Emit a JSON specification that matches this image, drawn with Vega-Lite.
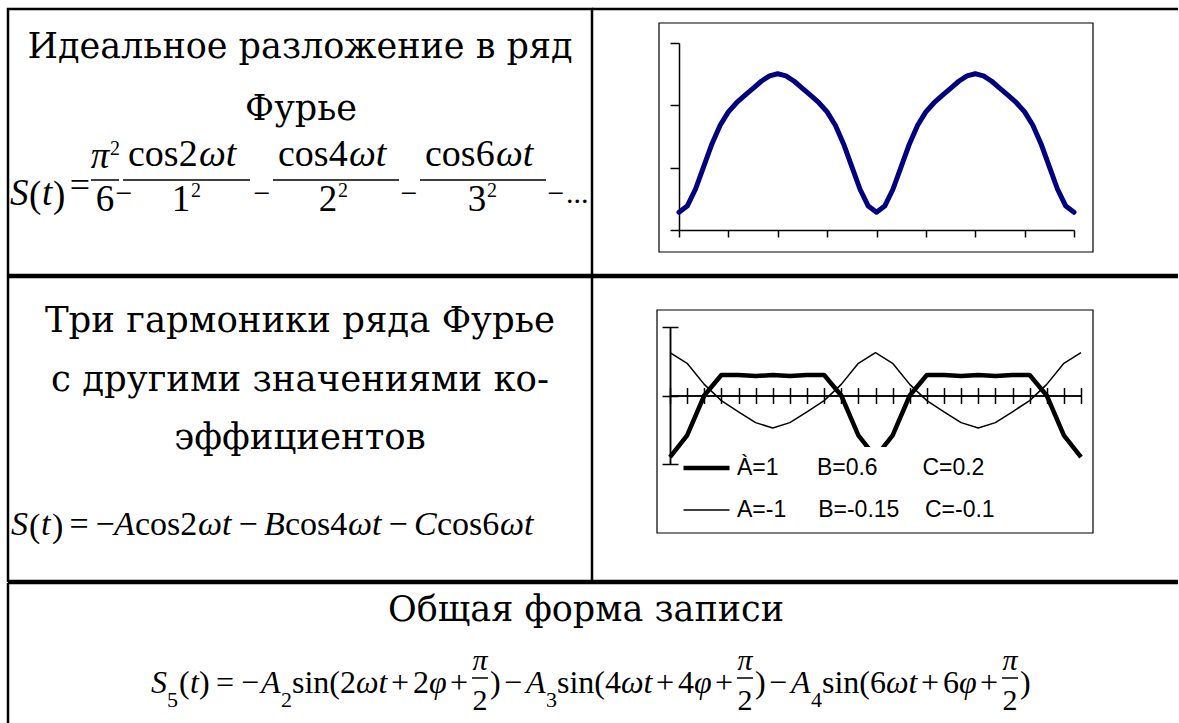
{
  "$schema": "https://vega.github.io/schema/vega-lite/v6.json",
  "background": "white",
  "padding": {"left": 6, "top": 7, "right": 0, "bottom": 0},
  "spacing": -2.5,
  "config": {
    "view": {"stroke": null},
    "text": {"font": "Liberation Serif", "fontSize": 36, "align": "left", "baseline": "alphabetic", "color": "black"},
    "rule": {"color": "black", "strokeWidth": 1.5}
  },
  "datasets": {
    "ideal": [
      {"deg": 0, "S": 0.284}, {"deg": 7.5, "S": 0.384}, {"deg": 15, "S": 0.654}, {"deg": 22.5, "S": 1.016},
      {"deg": 30, "S": 1.381}, {"deg": 37.5, "S": 1.681}, {"deg": 45, "S": 1.895}, {"deg": 52.5, "S": 2.042},
      {"deg": 60, "S": 2.159}, {"deg": 67.5, "S": 2.273}, {"deg": 75, "S": 2.386}, {"deg": 82.5, "S": 2.473},
      {"deg": 90, "S": 2.506}, {"deg": 97.5, "S": 2.473}, {"deg": 105, "S": 2.386}, {"deg": 112.5, "S": 2.273},
      {"deg": 120, "S": 2.159}, {"deg": 127.5, "S": 2.042}, {"deg": 135, "S": 1.895}, {"deg": 142.5, "S": 1.681},
      {"deg": 150, "S": 1.381}, {"deg": 157.5, "S": 1.016}, {"deg": 165, "S": 0.654}, {"deg": 172.5, "S": 0.384},
      {"deg": 180, "S": 0.284}, {"deg": 187.5, "S": 0.384}, {"deg": 195, "S": 0.654}, {"deg": 202.5, "S": 1.016},
      {"deg": 210, "S": 1.381}, {"deg": 217.5, "S": 1.681}, {"deg": 225, "S": 1.895}, {"deg": 232.5, "S": 2.042},
      {"deg": 240, "S": 2.159}, {"deg": 247.5, "S": 2.273}, {"deg": 255, "S": 2.386}, {"deg": 262.5, "S": 2.473},
      {"deg": 270, "S": 2.506}, {"deg": 277.5, "S": 2.473}, {"deg": 285, "S": 2.386}, {"deg": 292.5, "S": 2.273},
      {"deg": 300, "S": 2.159}, {"deg": 307.5, "S": 2.042}, {"deg": 315, "S": 1.895}, {"deg": 322.5, "S": 1.681},
      {"deg": 330, "S": 1.381}, {"deg": 337.5, "S": 1.016}, {"deg": 345, "S": 0.654}, {"deg": 352.5, "S": 0.384},
      {"deg": 360, "S": 0.284}
    ],
    "harmonics": [
      {"series": "À=1\u00a0\u00a0\u00a0\u00a0\u00a0\u00a0B=0.6\u00a0\u00a0\u00a0\u00a0\u00a0\u00a0\u00a0C=0.2", "deg": 0, "S": -1.8},
      {"series": "À=1\u00a0\u00a0\u00a0\u00a0\u00a0\u00a0B=0.6\u00a0\u00a0\u00a0\u00a0\u00a0\u00a0\u00a0C=0.2", "deg": 15, "S": -1.166},
      {"series": "À=1\u00a0\u00a0\u00a0\u00a0\u00a0\u00a0B=0.6\u00a0\u00a0\u00a0\u00a0\u00a0\u00a0\u00a0C=0.2", "deg": 30, "S": 0},
      {"series": "À=1\u00a0\u00a0\u00a0\u00a0\u00a0\u00a0B=0.6\u00a0\u00a0\u00a0\u00a0\u00a0\u00a0\u00a0C=0.2", "deg": 45, "S": 0.6},
      {"series": "À=1\u00a0\u00a0\u00a0\u00a0\u00a0\u00a0B=0.6\u00a0\u00a0\u00a0\u00a0\u00a0\u00a0\u00a0C=0.2", "deg": 60, "S": 0.6},
      {"series": "À=1\u00a0\u00a0\u00a0\u00a0\u00a0\u00a0B=0.6\u00a0\u00a0\u00a0\u00a0\u00a0\u00a0\u00a0C=0.2", "deg": 75, "S": 0.566},
      {"series": "À=1\u00a0\u00a0\u00a0\u00a0\u00a0\u00a0B=0.6\u00a0\u00a0\u00a0\u00a0\u00a0\u00a0\u00a0C=0.2", "deg": 90, "S": 0.6},
      {"series": "À=1\u00a0\u00a0\u00a0\u00a0\u00a0\u00a0B=0.6\u00a0\u00a0\u00a0\u00a0\u00a0\u00a0\u00a0C=0.2", "deg": 105, "S": 0.566},
      {"series": "À=1\u00a0\u00a0\u00a0\u00a0\u00a0\u00a0B=0.6\u00a0\u00a0\u00a0\u00a0\u00a0\u00a0\u00a0C=0.2", "deg": 120, "S": 0.6},
      {"series": "À=1\u00a0\u00a0\u00a0\u00a0\u00a0\u00a0B=0.6\u00a0\u00a0\u00a0\u00a0\u00a0\u00a0\u00a0C=0.2", "deg": 135, "S": 0.6},
      {"series": "À=1\u00a0\u00a0\u00a0\u00a0\u00a0\u00a0B=0.6\u00a0\u00a0\u00a0\u00a0\u00a0\u00a0\u00a0C=0.2", "deg": 150, "S": 0},
      {"series": "À=1\u00a0\u00a0\u00a0\u00a0\u00a0\u00a0B=0.6\u00a0\u00a0\u00a0\u00a0\u00a0\u00a0\u00a0C=0.2", "deg": 165, "S": -1.166},
      {"series": "À=1\u00a0\u00a0\u00a0\u00a0\u00a0\u00a0B=0.6\u00a0\u00a0\u00a0\u00a0\u00a0\u00a0\u00a0C=0.2", "deg": 180, "S": -1.8},
      {"series": "À=1\u00a0\u00a0\u00a0\u00a0\u00a0\u00a0B=0.6\u00a0\u00a0\u00a0\u00a0\u00a0\u00a0\u00a0C=0.2", "deg": 195, "S": -1.166},
      {"series": "À=1\u00a0\u00a0\u00a0\u00a0\u00a0\u00a0B=0.6\u00a0\u00a0\u00a0\u00a0\u00a0\u00a0\u00a0C=0.2", "deg": 210, "S": 0},
      {"series": "À=1\u00a0\u00a0\u00a0\u00a0\u00a0\u00a0B=0.6\u00a0\u00a0\u00a0\u00a0\u00a0\u00a0\u00a0C=0.2", "deg": 225, "S": 0.6},
      {"series": "À=1\u00a0\u00a0\u00a0\u00a0\u00a0\u00a0B=0.6\u00a0\u00a0\u00a0\u00a0\u00a0\u00a0\u00a0C=0.2", "deg": 240, "S": 0.6},
      {"series": "À=1\u00a0\u00a0\u00a0\u00a0\u00a0\u00a0B=0.6\u00a0\u00a0\u00a0\u00a0\u00a0\u00a0\u00a0C=0.2", "deg": 255, "S": 0.566},
      {"series": "À=1\u00a0\u00a0\u00a0\u00a0\u00a0\u00a0B=0.6\u00a0\u00a0\u00a0\u00a0\u00a0\u00a0\u00a0C=0.2", "deg": 270, "S": 0.6},
      {"series": "À=1\u00a0\u00a0\u00a0\u00a0\u00a0\u00a0B=0.6\u00a0\u00a0\u00a0\u00a0\u00a0\u00a0\u00a0C=0.2", "deg": 285, "S": 0.566},
      {"series": "À=1\u00a0\u00a0\u00a0\u00a0\u00a0\u00a0B=0.6\u00a0\u00a0\u00a0\u00a0\u00a0\u00a0\u00a0C=0.2", "deg": 300, "S": 0.6},
      {"series": "À=1\u00a0\u00a0\u00a0\u00a0\u00a0\u00a0B=0.6\u00a0\u00a0\u00a0\u00a0\u00a0\u00a0\u00a0C=0.2", "deg": 315, "S": 0.6},
      {"series": "À=1\u00a0\u00a0\u00a0\u00a0\u00a0\u00a0B=0.6\u00a0\u00a0\u00a0\u00a0\u00a0\u00a0\u00a0C=0.2", "deg": 330, "S": 0},
      {"series": "À=1\u00a0\u00a0\u00a0\u00a0\u00a0\u00a0B=0.6\u00a0\u00a0\u00a0\u00a0\u00a0\u00a0\u00a0C=0.2", "deg": 345, "S": -1.166},
      {"series": "À=1\u00a0\u00a0\u00a0\u00a0\u00a0\u00a0B=0.6\u00a0\u00a0\u00a0\u00a0\u00a0\u00a0\u00a0C=0.2", "deg": 360, "S": -1.8},
      {"series": "A=-1\u00a0\u00a0\u00a0\u00a0\u00a0B=-0.15\u00a0\u00a0\u00a0\u00a0C=-0.1", "deg": 0, "S": 1.25},
      {"series": "A=-1\u00a0\u00a0\u00a0\u00a0\u00a0B=-0.15\u00a0\u00a0\u00a0\u00a0C=-0.1", "deg": 15, "S": 0.941},
      {"series": "A=-1\u00a0\u00a0\u00a0\u00a0\u00a0B=-0.15\u00a0\u00a0\u00a0\u00a0C=-0.1", "deg": 30, "S": 0.325},
      {"series": "A=-1\u00a0\u00a0\u00a0\u00a0\u00a0B=-0.15\u00a0\u00a0\u00a0\u00a0C=-0.1", "deg": 45, "S": -0.15},
      {"series": "A=-1\u00a0\u00a0\u00a0\u00a0\u00a0B=-0.15\u00a0\u00a0\u00a0\u00a0C=-0.1", "deg": 60, "S": -0.475},
      {"series": "A=-1\u00a0\u00a0\u00a0\u00a0\u00a0B=-0.15\u00a0\u00a0\u00a0\u00a0C=-0.1", "deg": 75, "S": -0.791},
      {"series": "A=-1\u00a0\u00a0\u00a0\u00a0\u00a0B=-0.15\u00a0\u00a0\u00a0\u00a0C=-0.1", "deg": 90, "S": -0.95},
      {"series": "A=-1\u00a0\u00a0\u00a0\u00a0\u00a0B=-0.15\u00a0\u00a0\u00a0\u00a0C=-0.1", "deg": 105, "S": -0.791},
      {"series": "A=-1\u00a0\u00a0\u00a0\u00a0\u00a0B=-0.15\u00a0\u00a0\u00a0\u00a0C=-0.1", "deg": 120, "S": -0.475},
      {"series": "A=-1\u00a0\u00a0\u00a0\u00a0\u00a0B=-0.15\u00a0\u00a0\u00a0\u00a0C=-0.1", "deg": 135, "S": -0.15},
      {"series": "A=-1\u00a0\u00a0\u00a0\u00a0\u00a0B=-0.15\u00a0\u00a0\u00a0\u00a0C=-0.1", "deg": 150, "S": 0.325},
      {"series": "A=-1\u00a0\u00a0\u00a0\u00a0\u00a0B=-0.15\u00a0\u00a0\u00a0\u00a0C=-0.1", "deg": 165, "S": 0.941},
      {"series": "A=-1\u00a0\u00a0\u00a0\u00a0\u00a0B=-0.15\u00a0\u00a0\u00a0\u00a0C=-0.1", "deg": 180, "S": 1.25},
      {"series": "A=-1\u00a0\u00a0\u00a0\u00a0\u00a0B=-0.15\u00a0\u00a0\u00a0\u00a0C=-0.1", "deg": 195, "S": 0.941},
      {"series": "A=-1\u00a0\u00a0\u00a0\u00a0\u00a0B=-0.15\u00a0\u00a0\u00a0\u00a0C=-0.1", "deg": 210, "S": 0.325},
      {"series": "A=-1\u00a0\u00a0\u00a0\u00a0\u00a0B=-0.15\u00a0\u00a0\u00a0\u00a0C=-0.1", "deg": 225, "S": -0.15},
      {"series": "A=-1\u00a0\u00a0\u00a0\u00a0\u00a0B=-0.15\u00a0\u00a0\u00a0\u00a0C=-0.1", "deg": 240, "S": -0.475},
      {"series": "A=-1\u00a0\u00a0\u00a0\u00a0\u00a0B=-0.15\u00a0\u00a0\u00a0\u00a0C=-0.1", "deg": 255, "S": -0.791},
      {"series": "A=-1\u00a0\u00a0\u00a0\u00a0\u00a0B=-0.15\u00a0\u00a0\u00a0\u00a0C=-0.1", "deg": 270, "S": -0.95},
      {"series": "A=-1\u00a0\u00a0\u00a0\u00a0\u00a0B=-0.15\u00a0\u00a0\u00a0\u00a0C=-0.1", "deg": 285, "S": -0.791},
      {"series": "A=-1\u00a0\u00a0\u00a0\u00a0\u00a0B=-0.15\u00a0\u00a0\u00a0\u00a0C=-0.1", "deg": 300, "S": -0.475},
      {"series": "A=-1\u00a0\u00a0\u00a0\u00a0\u00a0B=-0.15\u00a0\u00a0\u00a0\u00a0C=-0.1", "deg": 315, "S": -0.15},
      {"series": "A=-1\u00a0\u00a0\u00a0\u00a0\u00a0B=-0.15\u00a0\u00a0\u00a0\u00a0C=-0.1", "deg": 330, "S": 0.325},
      {"series": "A=-1\u00a0\u00a0\u00a0\u00a0\u00a0B=-0.15\u00a0\u00a0\u00a0\u00a0C=-0.1", "deg": 345, "S": 0.941},
      {"series": "A=-1\u00a0\u00a0\u00a0\u00a0\u00a0B=-0.15\u00a0\u00a0\u00a0\u00a0C=-0.1", "deg": 360, "S": 1.25}
    ]
  },
  "vconcat": [
    {
      "bounds": "flush",
      "spacing": 0,
      "hconcat": [
        {
          "width": 584, "height": 266,
          "data": {"values": [{}]},
          "layer": [
            {"mark": {"type": "rect", "x": 0, "x2": 584, "y": 0, "y2": 266, "filled": false, "stroke": "black", "strokeWidth": 2.5}},
            {"mark": {"type": "text", "text": "Идеальное разложение в ряд", "x": 292, "y": 49, "font": "DejaVu Serif", "fontSize": 35, "align": "center"}},
            {"mark": {"type": "text", "text": "Фурье", "x": 293, "y": 111, "font": "DejaVu Serif", "fontSize": 35, "align": "center"}},
            {"mark": {"type": "text", "text": "S", "x": 2, "y": 196, "fontSize": 37, "fontStyle": "italic"}},
            {"mark": {"type": "text", "text": "(", "x": 21, "y": 198, "fontSize": 37}},
            {"mark": {"type": "text", "text": "t", "x": 34, "y": 196, "fontSize": 37, "fontStyle": "italic"}},
            {"mark": {"type": "text", "text": ")", "x": 45, "y": 198, "fontSize": 37}},
            {"mark": {"type": "text", "text": "=", "x": 72, "y": 188, "fontSize": 36, "align": "center"}},
            {"mark": {"type": "text", "text": "π", "x": 92, "y": 159, "fontSize": 37, "fontStyle": "italic", "align": "center"}},
            {"mark": {"type": "text", "text": "2", "x": 102, "y": 146, "fontSize": 20}},
            {"mark": "rule", "encoding": {"x": {"value": 83}, "x2": {"value": 111}, "y": {"value": 171}}},
            {"mark": {"type": "text", "text": "6", "x": 97, "y": 202, "fontSize": 37, "align": "center"}},
            {"mark": {"type": "text", "text": "−", "x": 116, "y": 194, "fontSize": 30, "align": "center"}},
            {"mark": {"type": "text", "text": "cos2", "x": 120, "y": 157, "fontSize": 38}},
            {"mark": {"type": "text", "text": "ωt", "x": 191, "y": 157, "fontSize": 38, "fontStyle": "italic"}},
            {"mark": "rule", "encoding": {"x": {"value": 115}, "x2": {"value": 242}, "y": {"value": 171}}},
            {"mark": {"type": "text", "text": "1", "x": 173, "y": 202, "fontSize": 37, "align": "center"}},
            {"mark": {"type": "text", "text": "2", "x": 183, "y": 188, "fontSize": 20}},
            {"mark": {"type": "text", "text": "−", "x": 254, "y": 194, "fontSize": 30, "align": "center"}},
            {"mark": {"type": "text", "text": "cos4", "x": 270, "y": 157, "fontSize": 38}},
            {"mark": {"type": "text", "text": "ωt", "x": 341, "y": 157, "fontSize": 38, "fontStyle": "italic"}},
            {"mark": "rule", "encoding": {"x": {"value": 265}, "x2": {"value": 391}, "y": {"value": 171}}},
            {"mark": {"type": "text", "text": "2", "x": 320, "y": 202, "fontSize": 37, "align": "center"}},
            {"mark": {"type": "text", "text": "2", "x": 330, "y": 188, "fontSize": 20}},
            {"mark": {"type": "text", "text": "−", "x": 401, "y": 194, "fontSize": 30, "align": "center"}},
            {"mark": {"type": "text", "text": "cos6", "x": 417, "y": 157, "fontSize": 38}},
            {"mark": {"type": "text", "text": "ωt", "x": 488, "y": 157, "fontSize": 38, "fontStyle": "italic"}},
            {"mark": "rule", "encoding": {"x": {"value": 412}, "x2": {"value": 538}, "y": {"value": 171}}},
            {"mark": {"type": "text", "text": "3", "x": 469, "y": 202, "fontSize": 37, "align": "center"}},
            {"mark": {"type": "text", "text": "2", "x": 479, "y": 188, "fontSize": 20}},
            {"mark": {"type": "text", "text": "−", "x": 548, "y": 194, "fontSize": 30, "align": "center"}},
            {"mark": {"type": "text", "text": "...", "x": 558, "y": 194, "fontSize": 30}}
          ]
        },
        {
          "width": 586, "height": 266,
          "layer": [
            {
              "data": {"values": [{}]},
              "mark": {"type": "rule", "strokeWidth": 2.5},
              "encoding": {"x": {"value": 0}, "x2": {"value": 586}, "y": {"value": 0}}
            },
            {
              "data": {"values": [{}]},
              "mark": {"type": "rule", "strokeWidth": 2.5},
              "encoding": {"x": {"value": 0}, "x2": {"value": 586}, "y": {"value": 266}}
            },
            {
              "data": {"values": [{}]},
              "mark": {"type": "rect", "x": 67, "x2": 501, "y": 14, "y2": 243, "filled": false, "stroke": "black", "strokeWidth": 1.2}
            },
            {
              "data": {"name": "ideal"},
              "mark": {"type": "line", "color": "#000080", "strokeWidth": 5, "strokeJoin": "round", "strokeCap": "round"},
              "encoding": {
                "x": {
                  "field": "deg", "type": "quantitative",
                  "scale": {"domain": [0, 360], "range": [87, 482], "nice": false, "zero": false},
                  "axis": {"orient": "bottom", "offset": -45, "values": [0, 45, 90, 135, 180, 225, 270, 315, 360], "labels": false, "title": null, "grid": false, "domainColor": "black", "domainWidth": 1.5, "tickColor": "black", "tickWidth": 1.5, "tickSize": 7}
                },
                "y": {
                  "field": "S", "type": "quantitative",
                  "scale": {"domain": [0, 3], "range": [221, 34], "nice": false},
                  "axis": {"orient": "left", "offset": -87, "values": [0, 1, 2, 3], "labels": false, "title": null, "grid": false, "domainColor": "black", "domainWidth": 1.5, "tickColor": "black", "tickWidth": 1.5, "tickSize": 9}
                }
              }
            }
          ]
        }
      ]
    },
    {
      "bounds": "flush",
      "spacing": 0,
      "hconcat": [
        {
          "width": 584, "height": 304,
          "data": {"values": [{}]},
          "layer": [
            {"mark": {"type": "rect", "x": 0, "x2": 584, "y": 0, "y2": 304, "filled": false, "stroke": "black", "strokeWidth": 2.5}},
            {"mark": {"type": "text", "text": "Три гармоники ряда Фурье", "x": 292, "y": 55, "font": "DejaVu Serif", "fontSize": 35.5, "align": "center"}},
            {"mark": {"type": "text", "text": "с другими значениями ко-", "x": 292, "y": 114, "font": "DejaVu Serif", "fontSize": 35.5, "align": "center"}},
            {"mark": {"type": "text", "text": "эффициентов", "x": 292, "y": 172, "font": "DejaVu Serif", "fontSize": 35.5, "align": "center"}},
            {"mark": {"type": "text", "text": "S", "x": 3, "y": 258, "fontSize": 34, "fontStyle": "italic"}},
            {"mark": {"type": "text", "text": "(", "x": 21, "y": 260, "fontSize": 34}},
            {"mark": {"type": "text", "text": "t", "x": 33, "y": 258, "fontSize": 34, "fontStyle": "italic"}},
            {"mark": {"type": "text", "text": ")", "x": 44, "y": 260, "fontSize": 34}},
            {"mark": {"type": "text", "text": "=", "x": 71, "y": 258, "fontSize": 34, "align": "center"}},
            {"mark": {"type": "text", "text": "−", "x": 97, "y": 258, "fontSize": 34, "align": "center"}},
            {"mark": {"type": "text", "text": "A", "x": 106, "y": 258, "fontSize": 34, "fontStyle": "italic"}},
            {"mark": {"type": "text", "text": "cos2", "x": 127, "y": 258, "fontSize": 34}},
            {"mark": {"type": "text", "text": "ωt", "x": 190, "y": 258, "fontSize": 34, "fontStyle": "italic"}},
            {"mark": {"type": "text", "text": "−", "x": 240, "y": 258, "fontSize": 34, "align": "center"}},
            {"mark": {"type": "text", "text": "B", "x": 256, "y": 258, "fontSize": 34, "fontStyle": "italic"}},
            {"mark": {"type": "text", "text": "cos4", "x": 277, "y": 258, "fontSize": 34}},
            {"mark": {"type": "text", "text": "ωt", "x": 340, "y": 258, "fontSize": 34, "fontStyle": "italic"}},
            {"mark": {"type": "text", "text": "−", "x": 390, "y": 258, "fontSize": 34, "align": "center"}},
            {"mark": {"type": "text", "text": "C", "x": 406, "y": 258, "fontSize": 34, "fontStyle": "italic"}},
            {"mark": {"type": "text", "text": "cos6", "x": 429, "y": 258, "fontSize": 34}},
            {"mark": {"type": "text", "text": "ωt", "x": 492, "y": 258, "fontSize": 34, "fontStyle": "italic"}}
          ]
        },
        {
          "width": 586, "height": 304,
          "layer": [
            {
              "data": {"values": [{}]},
              "mark": {"type": "rule", "strokeWidth": 2.5},
              "encoding": {"x": {"value": 0}, "x2": {"value": 586}, "y": {"value": 0}}
            },
            {
              "data": {"values": [{}]},
              "mark": {"type": "rule", "strokeWidth": 2.5},
              "encoding": {"x": {"value": 0}, "x2": {"value": 586}, "y": {"value": 304}}
            },
            {
              "data": {"values": [{}]},
              "mark": {"type": "rect", "x": 65, "x2": 501, "y": 33, "y2": 256, "filled": false, "stroke": "black", "strokeWidth": 1.2}
            },
            {
              "data": {"name": "harmonics"},
              "transform": [{"filter": "datum.series[0] === 'À'"}],
              "mark": {"type": "line", "strokeJoin": "round"},
              "encoding": {
                "x": {
                  "field": "deg", "type": "quantitative",
                  "scale": {"domain": [0, 360], "range": [78, 489], "nice": false, "zero": false},
                  "axis": {"orient": "bottom", "offset": -185.5, "values": [0, 15, 30, 45, 60, 75, 90, 105, 120, 135, 150, 165, 180, 195, 210, 225, 240, 255, 270, 285, 300, 315, 330, 345, 360], "labels": false, "title": null, "grid": false, "domainColor": "black", "domainWidth": 1.5, "tickColor": "black", "tickWidth": 1.5, "tickSize": 8}
                },
                "y": {
                  "field": "S", "type": "quantitative",
                  "scale": {"domain": [-2, 2], "range": [187, 50], "nice": false, "zero": false},
                  "axis": {"orient": "left", "offset": -78, "values": [-2, 0, 2], "labels": false, "title": null, "grid": false, "domainColor": "black", "domainWidth": 1.5, "tickColor": "black", "tickWidth": 1.5, "tickSize": 8}
                },
                "color": {
                  "field": "series", "type": "nominal",
                  "scale": {"domain": ["À=1\u00a0\u00a0\u00a0\u00a0\u00a0\u00a0B=0.6\u00a0\u00a0\u00a0\u00a0\u00a0\u00a0\u00a0C=0.2", "A=-1\u00a0\u00a0\u00a0\u00a0\u00a0B=-0.15\u00a0\u00a0\u00a0\u00a0C=-0.1"], "range": ["black", "black"]},
                  "legend": {"orient": "none", "legendX": 673, "legendY": 438, "title": null, "symbolType": "stroke", "symbolSize": 2116, "labelFont": "Liberation Sans", "labelFontSize": 23, "labelColor": "black", "fillColor": "white", "padding": 0, "rowPadding": 0, "labelOffset": 5, "labelLimit": 0, "clipHeight": 42}
                },
                "strokeWidth": {
                  "field": "series", "type": "ordinal",
                  "scale": {"domain": ["À=1\u00a0\u00a0\u00a0\u00a0\u00a0\u00a0B=0.6\u00a0\u00a0\u00a0\u00a0\u00a0\u00a0\u00a0C=0.2", "A=-1\u00a0\u00a0\u00a0\u00a0\u00a0B=-0.15\u00a0\u00a0\u00a0\u00a0C=-0.1"], "range": [4.5, 1.5]},
                  "legend": {"orient": "none", "legendX": 673, "legendY": 438, "title": null, "symbolType": "stroke", "symbolSize": 2116, "labelFont": "Liberation Sans", "labelFontSize": 23, "labelColor": "black", "fillColor": "white", "padding": 0, "rowPadding": 0, "labelOffset": 5, "labelLimit": 0, "clipHeight": 42}
                }
              }
            },
            {
              "data": {"name": "harmonics"},
              "transform": [{"filter": "datum.series[0] === 'A'"}],
              "mark": {"type": "line", "strokeJoin": "round"},
              "encoding": {
                "x": {
                  "field": "deg", "type": "quantitative",
                  "axis": {"orient": "top", "offset": -118.5, "values": [0, 15, 30, 45, 60, 75, 90, 105, 120, 135, 150, 165, 180, 195, 210, 225, 240, 255, 270, 285, 300, 315, 330, 345, 360], "labels": false, "title": null, "grid": false, "domainColor": "black", "domainWidth": 1.5, "tickColor": "black", "tickWidth": 1.5, "tickSize": 8}
                },
                "y": {
                  "field": "S", "type": "quantitative",
                  "axis": {"orient": "right", "offset": -508, "values": [-2, 0, 2], "labels": false, "title": null, "grid": false, "domainColor": "black", "domainWidth": 1.5, "tickColor": "black", "tickWidth": 1.5, "tickSize": 8}
                },
                "color": {"field": "series", "type": "nominal"},
                "strokeWidth": {"field": "series", "type": "ordinal"}
              }
            }
          ],
          "resolve": {"axis": {"x": "independent", "y": "independent"}}
        }
      ]
    },
    {
      "width": 1170, "height": 143,
      "data": {"values": [{}]},
      "layer": [
        {"mark": {"type": "rule", "strokeWidth": 2.5}, "encoding": {"x": {"value": 0}, "x2": {"value": 1170}, "y": {"value": 0}}},
        {"mark": {"type": "rule", "strokeWidth": 2.5}, "encoding": {"x": {"value": 0}, "y": {"value": 0}, "y2": {"value": 143}}},
        {"mark": {"type": "text", "text": "Общая форма записи", "x": 578, "y": 38, "font": "DejaVu Serif", "fontSize": 35, "align": "center"}},
        {"mark": {"type": "text", "text": "S", "x": 143, "y": 110, "fontSize": 32, "fontStyle": "italic"}},
        {"mark": {"type": "text", "text": "5", "x": 159, "y": 124, "fontSize": 22}},
        {"mark": {"type": "text", "text": "(", "x": 171, "y": 110, "fontSize": 32}},
        {"mark": {"type": "text", "text": "t", "x": 182, "y": 110, "fontSize": 32, "fontStyle": "italic"}},
        {"mark": {"type": "text", "text": ")", "x": 191, "y": 110, "fontSize": 32}},
        {"mark": {"type": "text", "text": "=", "x": 217, "y": 110, "fontSize": 32, "align": "center"}},
        {"mark": {"type": "text", "text": "−", "x": 242, "y": 110, "fontSize": 32, "align": "center"}},
        {"mark": {"type": "text", "text": "A", "x": 253, "y": 110, "fontSize": 32, "fontStyle": "italic"}},
        {"mark": {"type": "text", "text": "2", "x": 273, "y": 124, "fontSize": 22}},
        {"mark": {"type": "text", "text": "sin(2", "x": 284, "y": 110, "fontSize": 32}},
        {"mark": {"type": "text", "text": "ωt", "x": 348, "y": 110, "fontSize": 32, "fontStyle": "italic"}},
        {"mark": {"type": "text", "text": "+", "x": 392, "y": 110, "fontSize": 32, "align": "center"}},
        {"mark": {"type": "text", "text": "2", "x": 405, "y": 110, "fontSize": 32}},
        {"mark": {"type": "text", "text": "φ", "x": 421, "y": 110, "fontSize": 32, "fontStyle": "italic"}},
        {"mark": {"type": "text", "text": "+", "x": 451, "y": 110, "fontSize": 32, "align": "center"}},
        {"mark": {"type": "text", "text": "π", "x": 472, "y": 87, "fontSize": 30, "fontStyle": "italic", "align": "center"}},
        {"mark": "rule", "encoding": {"x": {"value": 464}, "x2": {"value": 480}, "y": {"value": 95}}},
        {"mark": {"type": "text", "text": "2", "x": 472, "y": 127, "fontSize": 30, "align": "center"}},
        {"mark": {"type": "text", "text": ")", "x": 482, "y": 110, "fontSize": 32}},
        {"mark": {"type": "text", "text": "−", "x": 505, "y": 110, "fontSize": 32, "align": "center"}},
        {"mark": {"type": "text", "text": "A", "x": 518, "y": 110, "fontSize": 32, "fontStyle": "italic"}},
        {"mark": {"type": "text", "text": "3", "x": 538, "y": 124, "fontSize": 22}},
        {"mark": {"type": "text", "text": "sin(4", "x": 549, "y": 110, "fontSize": 32}},
        {"mark": {"type": "text", "text": "ωt", "x": 613, "y": 110, "fontSize": 32, "fontStyle": "italic"}},
        {"mark": {"type": "text", "text": "+", "x": 657, "y": 110, "fontSize": 32, "align": "center"}},
        {"mark": {"type": "text", "text": "4", "x": 670, "y": 110, "fontSize": 32}},
        {"mark": {"type": "text", "text": "φ", "x": 686, "y": 110, "fontSize": 32, "fontStyle": "italic"}},
        {"mark": {"type": "text", "text": "+", "x": 716, "y": 110, "fontSize": 32, "align": "center"}},
        {"mark": {"type": "text", "text": "π", "x": 737, "y": 87, "fontSize": 30, "fontStyle": "italic", "align": "center"}},
        {"mark": "rule", "encoding": {"x": {"value": 729}, "x2": {"value": 745}, "y": {"value": 95}}},
        {"mark": {"type": "text", "text": "2", "x": 737, "y": 127, "fontSize": 30, "align": "center"}},
        {"mark": {"type": "text", "text": ")", "x": 747, "y": 110, "fontSize": 32}},
        {"mark": {"type": "text", "text": "−", "x": 770, "y": 110, "fontSize": 32, "align": "center"}},
        {"mark": {"type": "text", "text": "A", "x": 783, "y": 110, "fontSize": 32, "fontStyle": "italic"}},
        {"mark": {"type": "text", "text": "4", "x": 803, "y": 124, "fontSize": 22}},
        {"mark": {"type": "text", "text": "sin(6", "x": 814, "y": 110, "fontSize": 32}},
        {"mark": {"type": "text", "text": "ωt", "x": 878, "y": 110, "fontSize": 32, "fontStyle": "italic"}},
        {"mark": {"type": "text", "text": "+", "x": 922, "y": 110, "fontSize": 32, "align": "center"}},
        {"mark": {"type": "text", "text": "6", "x": 935, "y": 110, "fontSize": 32}},
        {"mark": {"type": "text", "text": "φ", "x": 951, "y": 110, "fontSize": 32, "fontStyle": "italic"}},
        {"mark": {"type": "text", "text": "+", "x": 981, "y": 110, "fontSize": 32, "align": "center"}},
        {"mark": {"type": "text", "text": "π", "x": 1002, "y": 87, "fontSize": 30, "fontStyle": "italic", "align": "center"}},
        {"mark": "rule", "encoding": {"x": {"value": 994}, "x2": {"value": 1010}, "y": {"value": 95}}},
        {"mark": {"type": "text", "text": "2", "x": 1002, "y": 127, "fontSize": 30, "align": "center"}},
        {"mark": {"type": "text", "text": ")", "x": 1012, "y": 110, "fontSize": 32}}
      ]
    }
  ]
}
